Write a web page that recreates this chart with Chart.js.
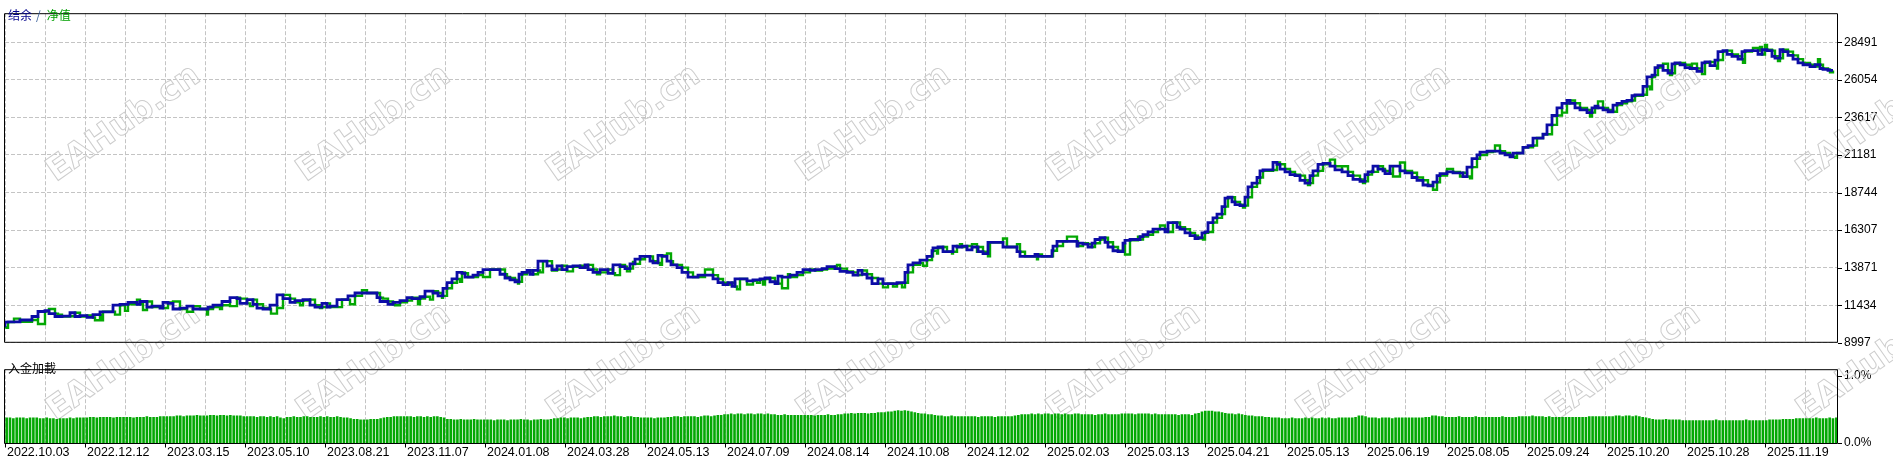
<!DOCTYPE html>
<html lang="zh">
<head>
<meta charset="UTF-8">
<title>结余 / 净值</title>
<script src="https://cdn.jsdelivr.net/npm/chart.js"></script>
<style>
  html, body { margin: 0; padding: 0; background: #fff; overflow: hidden; }
  canvas { position: absolute; left: 0; }
  #top { top: 0; }
  #bottom { top: 356px; }
</style>
</head>
<body>
<canvas id="top" width="1893" height="356"></canvas>
<canvas id="bottom" width="1893" height="106"></canvas>
<script>
// balance curve, [deal #, balance]
const balance = [
  [0,10000],[3,10337],[15,10355],[27,10477],[33,10703],[40,11026],[44,11087],[50,10886],[57,10703],[65,10721],
  [70,10946],[75,10703],[82,10764],[88,10642],[95,10825],[98,11007],[108,11007],[115,11434],[123,11495],[132,11617],
  [135,11495],[142,11677],[147,11312],[155,11373],[158,11251],[163,11617],[168,11556],[175,11190],[182,11251],[188,11373],
  [195,11190],[203,11190],[208,11312],[217,11434],[225,11677],[232,11921],[235,11860],[242,11556],[248,11799],[252,11495],
  [258,11251],[265,11190],[272,11434],[278,12104],[285,11860],[290,11617],[298,11738],[305,11799],[310,11434],[317,11312],
  [322,11556],[325,11312],[332,11373],[337,11799],[343,11799],[350,12043],[362,12226],[372,12226],[375,11921],[383,11677],
  [388,11495],[395,11617],[402,11738],[407,11921],[415,11860],[420,11982],[428,12348],[433,12226],[438,12043],[442,12530],
  [447,12896],[452,13139],[457,13566],[460,13505],[463,13261],[468,13261],[473,13383],[478,13566],[485,13749],[495,13749],
  [500,13444],[505,13200],[510,13079],[514,12957],[517,13444],[522,13566],[525,13688],[528,13444],[533,13688],[538,14297],
  [542,14297],[547,13992],[552,13749],[557,13992],[562,13749],[568,13931],[575,13992],[580,13871],[583,14053],[588,13749],
  [595,13566],[603,13749],[608,13505],[615,14053],[620,13931],[625,13810],[630,14114],[635,14419],[640,14602],[645,14602],
  [648,14297],[653,14175],[657,14663],[662,14602],[666,14297],[672,14053],[677,13871],[683,13566],[688,13261],[693,13261],
  [700,13383],[708,13383],[713,13139],[718,12896],[723,12774],[727,12896],[730,12650],[735,13139],[742,13139],[748,13018],
  [755,13079],[760,13139],[765,13200],[770,12957],[773,12835],[777,13322],[785,13261],[792,13383],[798,13566],[805,13749],
  [810,13688],[817,13749],[822,13810],[830,13931],[835,13810],[842,13627],[848,13566],[853,13383],[857,13688],[862,13444],
  [867,13200],[873,12835],[878,13139],[883,12835],[892,12835],[900,12896],[903,13566],[908,14053],[915,14175],[922,14358],
  [927,14602],[928,14967],[933,15150],[938,15211],[942,14906],[948,14906],[952,15272],[957,15211],[962,15272],[967,15028],
  [973,15211],[978,14906],[983,14784],[985,15515],[998,15515],[1002,15211],[1012,15211],[1015,14906],[1020,14602],[1030,14602],
  [1033,14723],[1037,14602],[1047,14602],[1048,14967],[1052,15272],[1058,15576],[1072,15576],[1073,15272],[1078,15455],[1083,15394],
  [1087,15211],[1090,15455],[1095,15698],[1100,15820],[1103,15515],[1108,15211],[1113,14967],[1118,14906],[1120,15455],[1125,15637],
  [1135,15698],[1138,15881],[1143,16003],[1148,16185],[1153,16368],[1160,16368],[1163,16185],[1168,16795],[1172,16795],[1175,16490],
  [1180,16368],[1185,16125],[1190,15942],[1193,15759],[1197,15820],[1200,16125],[1203,16185],[1208,16795],[1212,17099],[1217,17343],
  [1220,17830],[1223,18379],[1227,18439],[1230,18135],[1235,17952],[1240,17891],[1243,18439],[1247,19110],[1252,19353],[1255,19719],
  [1258,20145],[1268,20206],[1272,20693],[1275,20572],[1280,20267],[1285,20084],[1290,19902],[1295,19841],[1300,19536],[1305,19353],
  [1308,19841],[1313,20145],[1318,20572],[1325,20633],[1330,20450],[1337,20206],[1343,20084],[1348,19841],[1355,19597],[1360,19475],
  [1363,19902],[1368,20084],[1373,20450],[1378,20267],[1380,20145],[1385,19963],[1388,20450],[1395,20450],[1400,20145],[1407,20023],
  [1412,19719],[1418,19536],[1423,19231],[1428,19170],[1432,19414],[1435,19841],[1442,19963],[1448,20084],[1458,20023],[1462,19780],
  [1467,20389],[1472,20937],[1475,21181],[1482,21364],[1488,21424],[1495,21424],[1500,21303],[1505,21181],[1508,21059],[1512,21303],
  [1518,21303],[1523,21668],[1528,21790],[1532,22277],[1538,22277],[1542,22521],[1547,23130],[1552,23739],[1557,24227],[1562,24531],
  [1565,24714],[1570,24531],[1575,24227],[1582,24105],[1587,23922],[1590,24227],[1593,24349],[1598,24227],[1603,24105],[1608,23983],
  [1612,24409],[1617,24531],[1622,24653],[1627,24714],[1630,25019],[1638,25080],[1642,25628],[1647,26237],[1650,26359],[1653,26846],
  [1658,26968],[1663,26664],[1667,26481],[1670,27090],[1675,27151],[1680,27029],[1685,26846],[1692,26785],[1697,26603],[1700,27151],
  [1705,27212],[1710,26968],[1713,27334],[1718,27882],[1722,27943],[1727,27699],[1733,27577],[1737,27395],[1740,27882],[1747,27943],
  [1753,27943],[1757,27699],[1762,28004],[1767,27943],[1770,27577],[1775,27455],[1778,28004],[1783,27882],[1788,27638],[1793,27395],
  [1798,27151],[1805,27029],[1810,26907],[1815,27029],[1818,26785],[1823,26724],[1828,26664]
];

// equity readings where it leaves the balance line (floating loss / profit spikes)
const equityMoves = [
  [2,9972],[9,10562],[33,10215],[44,11190],[53,10825],[90,10459],[97,10459],[110,10825],[120,11068],[132,11799],
  [138,11129],[162,11251],[168,11677],[182,11007],[202,10825],[215,11190],[225,11373],[245,11373],[266,10886],[272,11251],
  [295,11434],[315,11251],[332,11312],[345,11495],[357,12409],[378,11860],[390,11434],[413,11495],[425,11799],[437,11921],
  [455,12957],[478,13261],[502,13261],[513,12835],[535,13566],[547,13688],[562,13627],[592,13444],[610,13383],[622,13627],
  [628,14236],[655,14053],[662,14784],[668,14053],[700,13749],[732,12469],[742,12774],[752,12896],[758,12774],[777,12530],
  [783,13444],[832,14053],[878,12591],[888,12652],[897,12591],[918,13992],[932,14784],[947,14784],[955,15394],[967,15394],
  [972,14906],[983,14602],[998,15759],[1012,15394],[1032,14419],[1062,15881],[1068,15881],[1120,14723],[1133,15881],[1155,16600],
  [1198,15698],[1238,17769],[1303,19231],[1325,20876],[1337,20450],[1358,19353],[1367,20145],[1388,19780],[1395,20694],[1428,18926],
  [1442,20267],[1455,19780],[1465,19658],[1490,21790],[1510,20998],[1518,21668],[1538,22521],[1557,23922],[1585,23678],[1593,24653],
  [1645,25445],[1658,27090],[1665,26359],[1687,27100],[1697,26420],[1712,26785],[1738,27151],[1748,28126],[1755,28187],[1760,28308],
  [1773,27273],[1813,27395],[1825,26541]
];

const balanceTicks = [8997, 11434, 13871, 16307, 18744, 21181, 23617, 26054, 28491];
const balanceTop = 30373;

const dateLabels = [
  '2022.10.03','2022.12.12','2023.03.15','2023.05.10','2023.08.21','2023.11.07','2024.01.08','2024.03.28',
  '2024.05.13','2024.07.09','2024.08.14','2024.10.08','2024.12.02','2025.02.03','2025.03.13','2025.04.21',
  '2025.05.13','2025.06.19','2025.08.05','2025.09.24','2025.10.20','2025.10.28','2025.11.19'
];

// deposit load, percent
const loadBars = [
  0.38,0.38,0.37,0.38,0.38,0.38,0.37,0.38,0.38,0.38,0.37,0.37,
  0.38,0.37,0.37,0.36,0.37,0.37,0.37,0.38,0.37,0.38,0.38,0.38,
  0.38,0.39,0.39,0.38,0.39,0.39,0.39,0.39,0.38,0.39,0.39,0.39,
  0.39,0.39,0.38,0.39,0.39,0.39,0.40,0.39,0.39,0.39,0.40,0.40,
  0.40,0.40,0.40,0.41,0.41,0.40,0.41,0.41,0.41,0.42,0.41,0.41,
  0.41,0.42,0.42,0.41,0.42,0.42,0.41,0.42,0.41,0.41,0.41,0.40,
  0.40,0.40,0.40,0.39,0.40,0.40,0.39,0.40,0.39,0.40,0.38,0.37,
  0.39,0.39,0.40,0.39,0.39,0.40,0.40,0.39,0.39,0.39,0.40,0.39,
  0.40,0.39,0.39,0.40,0.39,0.38,0.38,0.37,0.36,0.36,0.35,0.35,
  0.35,0.36,0.36,0.36,0.37,0.38,0.39,0.39,0.40,0.40,0.40,0.40,
  0.40,0.40,0.39,0.40,0.40,0.39,0.40,0.39,0.40,0.40,0.39,0.38,
  0.36,0.36,0.35,0.35,0.36,0.35,0.35,0.35,0.36,0.35,0.35,0.35,
  0.35,0.35,0.34,0.35,0.35,0.35,0.34,0.35,0.35,0.35,0.36,0.35,
  0.35,0.34,0.35,0.35,0.36,0.35,0.35,0.36,0.37,0.37,0.38,0.38,
  0.37,0.38,0.38,0.38,0.37,0.38,0.39,0.39,0.40,0.40,0.39,0.40,
  0.40,0.40,0.41,0.40,0.40,0.39,0.40,0.40,0.39,0.39,0.38,0.38,
  0.38,0.38,0.37,0.38,0.38,0.38,0.39,0.39,0.40,0.40,0.39,0.40,
  0.40,0.40,0.40,0.39,0.40,0.41,0.41,0.40,0.41,0.42,0.42,0.43,
  0.43,0.44,0.43,0.44,0.44,0.43,0.44,0.44,0.43,0.44,0.44,0.43,
  0.44,0.43,0.43,0.42,0.42,0.43,0.42,0.42,0.42,0.42,0.42,0.42,
  0.42,0.42,0.41,0.42,0.42,0.42,0.43,0.42,0.42,0.43,0.43,0.44,
  0.44,0.45,0.44,0.45,0.45,0.45,0.44,0.45,0.45,0.46,0.46,0.46,
  0.47,0.47,0.48,0.49,0.48,0.49,0.48,0.47,0.46,0.45,0.44,0.44,
  0.43,0.43,0.42,0.41,0.41,0.40,0.40,0.41,0.40,0.40,0.40,0.40,
  0.40,0.40,0.40,0.39,0.40,0.40,0.40,0.40,0.39,0.40,0.40,0.40,
  0.40,0.40,0.41,0.42,0.43,0.43,0.43,0.44,0.43,0.44,0.43,0.44,
  0.44,0.43,0.44,0.44,0.43,0.44,0.43,0.43,0.44,0.44,0.43,0.43,
  0.43,0.43,0.42,0.43,0.43,0.44,0.43,0.43,0.43,0.43,0.44,0.44,
  0.44,0.44,0.43,0.44,0.44,0.44,0.44,0.43,0.44,0.43,0.43,0.43,
  0.43,0.43,0.43,0.42,0.43,0.43,0.43,0.42,0.44,0.45,0.47,0.48,
  0.48,0.48,0.47,0.47,0.46,0.45,0.44,0.44,0.43,0.44,0.43,0.42,
  0.41,0.41,0.40,0.40,0.40,0.39,0.39,0.38,0.38,0.38,0.37,0.37,
  0.37,0.38,0.37,0.37,0.37,0.38,0.37,0.38,0.37,0.37,0.38,0.37,
  0.38,0.37,0.37,0.38,0.38,0.38,0.38,0.38,0.39,0.41,0.41,0.40,
  0.38,0.38,0.38,0.37,0.38,0.38,0.38,0.37,0.38,0.38,0.38,0.38,
  0.38,0.38,0.38,0.38,0.38,0.39,0.39,0.41,0.41,0.40,0.40,0.39,
  0.39,0.39,0.39,0.40,0.39,0.39,0.39,0.39,0.40,0.39,0.39,0.39,
  0.39,0.39,0.39,0.39,0.40,0.39,0.39,0.39,0.39,0.40,0.40,0.40,
  0.40,0.41,0.40,0.40,0.40,0.39,0.40,0.39,0.39,0.39,0.39,0.39,
  0.39,0.39,0.39,0.39,0.39,0.39,0.40,0.40,0.40,0.40,0.40,0.40,
  0.40,0.40,0.41,0.41,0.40,0.41,0.41,0.40,0.41,0.40,0.39,0.38,
  0.37,0.36,0.35,0.35,0.35,0.36,0.35,0.35,0.35,0.35,0.34,0.34,
  0.34,0.34,0.34,0.34,0.34,0.34,0.34,0.34,0.35,0.34,0.34,0.34,
  0.34,0.34,0.34,0.34,0.34,0.35,0.34,0.34,0.34,0.34,0.34,0.34,
  0.35,0.35,0.35,0.35,0.36,0.36,0.36,0.36,0.37,0.37,0.37,0.37,
  0.37,0.37,0.38,0.37,0.37,0.37,0.38,0.37,0.38
];
const loadTicks = [0, 1.0];
const loadTop = 1.1026;

const lastDeal = 1833;
const gridStep = 40;
const dateStep = 80;

const BLUE = '#0c0ca6';
const GREEN = '#03a803';
const GRID = '#c4c4c4';
const AXIS_FONT = { family: 'Liberation Sans', size: 12 };

const gridDeals = [];
for (let d = 0; d < lastDeal; d += gridStep) gridDeals.push(d);

const equity = balance.concat(equityMoves).sort((a, b) => a[0] - b[0]);

// "EAHub.cn" watermark, page coordinates
const markCols = [124, 374, 624, 874, 1124, 1374, 1624, 1874];
const markRows = [124, 363];
const watermark = {
  id: 'watermark',
  beforeDatasetsDraw(chart, args, opts) {
    const ctx = chart.ctx;
    ctx.save();
    ctx.font = 'bold 33px "DejaVu Sans"';
    ctx.strokeStyle = '#cdcdcd';
    ctx.lineWidth = 1;
    ctx.textAlign = 'center';
    ctx.textBaseline = 'middle';
    markRows.forEach(ry => markCols.forEach(rx => {
      ctx.save();
      ctx.translate(rx, ry - opts.offsetY);
      ctx.rotate(-35 * Math.PI / 180);
      ctx.strokeText('EAHub.cn', 0, 0);
      ctx.restore();
    }));
    ctx.restore();
  }
};

// black frame and small axis ticks
const frame = {
  id: 'frame',
  afterDraw(chart, args, opts) {
    const {ctx, chartArea: a, scales} = chart;
    ctx.save();
    ctx.strokeStyle = '#000';
    ctx.lineWidth = 1;
    ctx.beginPath();
    const t = opts.topEdge(a), b = opts.bottomEdge(a);
    ctx.moveTo(4.5, t); ctx.lineTo(a.right - 0.5, t);
    ctx.moveTo(4.5, b); ctx.lineTo(a.right - 0.5, b);
    ctx.moveTo(4.5, t); ctx.lineTo(4.5, b);
    ctx.moveTo(a.right - 0.5, t); ctx.lineTo(a.right - 0.5, b);
    scales.y.ticks.forEach(tk => {
      const y = Math.round(scales.y.getPixelForValue(tk.value)) + 0.5;
      ctx.moveTo(a.right, y); ctx.lineTo(a.right + 4, y);
    });
    if (opts.dateTicks) {
      dateLabels.forEach((_, i) => {
        const x = Math.round(scales.x.getPixelForValue(i * dateStep)) + 0.5;
        ctx.moveTo(x, b); ctx.lineTo(x, b + 4);
      });
    }
    ctx.stroke();
    ctx.restore();
  }
};

// panel captions
const caption = {
  id: 'caption',
  afterDraw(chart, args, opts) {
    const ctx = chart.ctx;
    ctx.save();
    ctx.font = '12px "Noto Sans CJK SC"';
    ctx.textBaseline = 'middle';
    let x = 8;
    opts.parts.forEach(p => {
      ctx.fillStyle = p.color;
      ctx.fillText(p.text, x, opts.y);
      x += ctx.measureText(p.text).width + p.gap;
    });
    ctx.restore();
  }
};

const sharedGrid = { color: GRID, drawTicks: false };
const dashedBorder = { display: false, dash: [4, 2] };

new Chart(document.getElementById('top'), {
  type: 'line',
  data: {
    datasets: [
      { label: '结余', data: balance, borderColor: BLUE, borderWidth: 2.8, stepped: 'after',
        pointRadius: 0, fill: false, order: 1 },
      { label: '净值', data: equity, borderColor: GREEN, borderWidth: 2.4, stepped: 'before',
        pointRadius: 0, fill: false, order: 2 }
    ]
  },
  options: {
    responsive: false,
    animation: false,
    events: [],
    layout: { padding: { left: 5, top: 4, right: 0, bottom: 0 } },
    plugins: {
      legend: { display: false },
      tooltip: { enabled: false },
      watermark: { offsetY: 0 },
      frame: { topEdge: a => a.top + 0.5, bottomEdge: a => a.bottom - 0.5, dateTicks: false },
      caption: { y: 15, parts: [
        { text: '结余', color: '#00008b', gap: 4 },
        { text: '/', color: '#3a5f9a', gap: 6 },
        { text: '净值', color: '#00a000', gap: 0 }
      ] }
    },
    scales: {
      x: {
        type: 'linear', min: 0, max: lastDeal,
        afterBuildTicks: s => { s.ticks = gridDeals.map(v => ({ value: v })); },
        ticks: { display: false },
        grid: sharedGrid,
        border: dashedBorder,
        afterFit: s => { s.height = 0; }
      },
      y: {
        position: 'right', min: balanceTicks[0], max: balanceTop,
        afterBuildTicks: s => { s.ticks = balanceTicks.map(v => ({ value: v })); },
        ticks: { color: '#000', font: AXIS_FONT, padding: 6, callback: v => String(v) },
        grid: sharedGrid,
        border: dashedBorder,
        afterFit: s => { s.width = 55; }
      }
    }
  },
  plugins: [watermark, frame, caption]
});

new Chart(document.getElementById('bottom'), {
  type: 'bar',
  data: {
    labels: loadBars.map((_, i) => i),
    datasets: [{
      label: '入金加載', data: loadBars, xAxisID: 'xb', yAxisID: 'y',
      backgroundColor: GREEN, borderWidth: 0,
      categoryPercentage: 1, barPercentage: 0.78
    }]
  },
  options: {
    responsive: false,
    animation: false,
    events: [],
    layout: { padding: { left: 5, top: 1, right: 0, bottom: 0 } },
    plugins: {
      legend: { display: false },
      tooltip: { enabled: false },
      watermark: { offsetY: 356 },
      frame: { topEdge: a => a.top + 0.5, bottomEdge: a => a.bottom + 0.5, dateTicks: true },
      caption: { y: 12.5, parts: [{ text: '入金加載', color: '#000', gap: 0 }] }
    },
    scales: {
      x: {
        type: 'linear', position: 'bottom', min: 0, max: lastDeal, offset: false,
        afterBuildTicks: s => { s.ticks = gridDeals.map(v => ({ value: v })); },
        ticks: {
          color: '#000', font: { family: 'Liberation Sans', size: 12.5 },
          autoSkip: false, maxRotation: 0, align: 'start', labelOffset: 2, padding: 2,
          callback: v => (v % dateStep === 0 ? dateLabels[v / dateStep] : '')
        },
        grid: { color: GRID, drawTicks: false, offset: false },
        border: dashedBorder,
        afterFit: s => { s.height = 19; }
      },
      xb: { type: 'category', display: false, offset: true, grid: { offset: true } },
      y: {
        position: 'right', min: 0, max: loadTop,
        afterBuildTicks: s => { s.ticks = loadTicks.map(v => ({ value: v })); },
        ticks: { color: '#000', font: AXIS_FONT, padding: 6, callback: v => v.toFixed(1) + '%' },
        grid: { display: false, drawTicks: false },
        border: { display: false },
        afterFit: s => { s.width = 55; }
      }
    }
  },
  plugins: [watermark, frame, caption]
});
</script>
</body>
</html>
